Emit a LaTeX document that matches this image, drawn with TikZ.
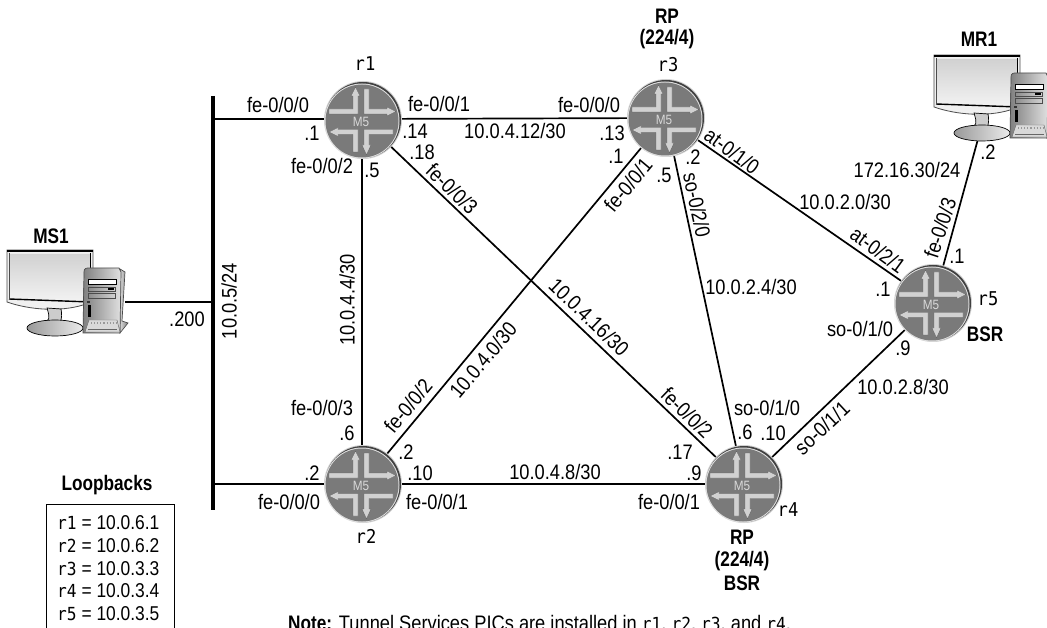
\documentclass[tikz,border=0pt]{standalone}
\usepackage{fontspec}
\setmainfont[FakeStretch=0.87,BoldFeatures={FakeStretch=0.82}]{Liberation Sans}
\newfontfamily\rmono[FakeStretch=0.9]{DejaVu Sans Mono}
\begin{document}
\begin{tikzpicture}[x=1pt,y=-1pt,
  lbl/.style={inner sep=0pt,font=\fontsize{21}{23}\selectfont},
  blbl/.style={inner sep=0pt,font=\fontsize{21}{23}\selectfont\bfseries},
  rn/.style={inner sep=0pt,font=\fontsize{19}{22}\selectfont\rmono},
  link/.style={line width=1.7pt,black},
  router/.style={circle,minimum size=76pt,inner sep=0pt,outer sep=0pt},
  arrowp/.style={fill=black!18,draw=black!60,line width=.4pt},
  pics/routericon/.style={code={
    \fill[black!18] (0,0) circle (39);
    \fill[black!75] (0,0) circle (38);
    \fill[black!12] (-1,1) circle (37.5);
    \fill[black!52] (-1,1) circle (36.5);
    \path[arrowp] (-34,-11)--(-10,-11)--(-10,-24)--(-12,-24)--(-7.5,-33)--(-3,-24)--(-5,-24)--(-5,-6)--(-34,-6)--cycle;
    \path[arrowp] (1,-31)--(6,-31)--(6,-11)--(24,-11)--(24,-13)--(33,-8.5)--(24,-4)--(24,-6)--(1,-6)--cycle;
    \path[arrowp] (-34,12)--(-25,7.5)--(-25,9.5)--(-5,9.5)--(-5,32)--(-10,32)--(-10,14.5)--(-25,14.5)--(-25,16.5)--cycle;
    \path[arrowp] (30,9.5)--(30,14.5)--(6,14.5)--(6,25)--(8,25)--(3.5,35)--(-1,25)--(1,25)--(1,9.5)--cycle;
    \node[inner sep=0pt,text=black!15,font=\fontsize{13.5}{13.5}\selectfont] at (-2,2) {M5};
  }},
  pics/computer/.style={code={
    % monitor
    \fill[black!6,draw=black!70,line width=.8pt] (7,250)--(93,250)--(93,305)--(83,305) .. controls (60,312) and (30,310) .. (7,302)--cycle;
    \fill[black] (7,250) rectangle (93,252.5);
    \shade[top color=black!18,bottom color=black!5] (10,254)--(90,254)--(90,301)--(10,298)--cycle;
    \draw[line width=1.4pt] (9,299)--(91,302);
    \draw[line width=1pt] (90.5,253)--(90.5,302);
    \draw[line width=.8pt,black!70] (9.5,253)--(9.5,299);
    % stand
    \fill[black!20,draw=black,line width=.7pt] (47,308) .. controls (50,318) and (50,320) .. (44,323)--(60,323) .. controls (62,318) and (62,314) .. (61,309)--cycle;
    \shade[left color=black!40,right color=black!8,draw=black,line width=.7pt] (55,328) ellipse (28 and 8);
    % tower
    \shade[left color=black!15,right color=black!50,draw=black!70,line width=.7pt] (120,269)--(125,272)--(122,321)--(128,323)--(120,333)--cycle;
    \shade[left color=black!50,right color=black!12,draw=black!70,line width=.7pt] (84,272) .. controls (84,268) and (86,268) .. (90,268)--(119,268)--(121,272)--(120,333)--(83,333)--cycle;
    \fill[white,draw=black,line width=.8pt] (88,279) rectangle (116,284);
    \draw[line width=.6pt,black!70] (88,287) rectangle (115,291);
    \draw[line width=.6pt,black!70] (88,293) rectangle (115,298);
    \fill[black] (108,288) rectangle (114,290);
    \fill[black] (88,305) rectangle (90.5,317);
    \fill[black!80] (87,301) rectangle (90,303.5);
    \fill[black!15,draw=black!60,line width=.4pt] (85,332)--(89,320)--(117,320)--(120,332)--cycle;
    \draw[line width=1.1pt,black!40,dotted] (91,323)--(116,323);
    \draw[line width=.5pt,black!60] (88,329)--(117,329);
  }}
]
\useasboundingbox (0,0) rectangle (1047,628);
\clip (0,0) rectangle (1047,628);
\fill[white] (0,0) rectangle (1047,628);

% routers
\node[router] (r1) at (362,119) {};
\node[router] (r2) at (362,484) {};
\node[router] (r3) at (666,118) {};
\node[router] (r4) at (744,484) {};
\node[router] (r5) at (933,303) {};

% bus and hosts
\coordinate (bt) at (213,96);
\coordinate (bb) at (213,510);
\coordinate (b1) at (213,119);
\coordinate (b2) at (213,484);
\coordinate (bm) at (213,302);
\coordinate (ms) at (125,302);
\coordinate (mr) at (978,139);
\draw[line width=3.6pt] (bt)--(bb);
\draw[link] (b1)--(r1);
\draw[link] (b2)--(r2);
\draw[line width=1.3pt] (ms)--(bm);
\draw[link] (mr)--(r5);

% links
\draw[link] (r1)--(r3);
\draw[link] (r2)--(r4);
\draw[link] (r1)--(r2);
\draw[link] (r1)--(r4);
\draw[link] (r2)--(r3);
\draw[link] (r3)--(r4);
\draw[link] (r3)--(r5);
\draw[link] (r4)--(r5);

\pic at (363,120) {routericon};
\pic at (363,484) {routericon};
\pic at (666,118) {routericon};
\pic at (744,484) {routericon};
\pic at (933,303) {routericon};

\pic at (0,0) {computer};
\pic at (927,-195) {computer};

% host labels
\node[blbl] (lms) at (51,236) {MS1};
\node[blbl] (lmr) at (979,39) {MR1};
\node[lbl] (l200) at (187,319) {.200};
\node[lbl,rotate=90] (lbus) at (229,301) {10.0.5/24};

% router names and titles
\node[blbl] (t3a) at (667,16) {RP};
\node[blbl] (t3b) at (667,39) {(224/4)};
\node[rn] (n3) at (668,65) {r3};
\node[rn] (n1) at (365,64) {r1};
\node[rn] (n2) at (366,536) {r2};
\node[rn] (n4) at (788,510) {r4};
\node[rn] (n5) at (988,299) {r5};
\node[blbl] (t4a) at (742,537) {RP};
\node[blbl] (t4b) at (742,561) {(224/4)};
\node[blbl] (t4c) at (742,583) {BSR};
\node[blbl] (t5) at (985,334) {BSR};

% r1 labels
\node[lbl] (a1) at (278,105) {fe-0/0/0};
\node[lbl] (a2) at (312,133) {.1};
\node[lbl] (a3) at (439,104) {fe-0/0/1};
\node[lbl] (a4) at (415,131) {.14};
\node[lbl] (a5) at (422,152) {.18};
\node[lbl] (a6) at (322,166) {fe-0/0/2};
\node[lbl] (a7) at (372,170) {.5};
\node[lbl] (a8) at (515,131) {10.0.4.12/30};
\node[lbl,rotate=-44] (a9) at (452,189) {fe-0/0/3};

% r3 labels
\node[lbl] (c1) at (589,105) {fe-0/0/0};
\node[lbl] (c2) at (612,133) {.13};
\node[lbl] (c3) at (616,156) {.1};
\node[lbl] (c4) at (664,175) {.5};
\node[lbl] (c5) at (693,157) {.2};
\node[lbl,rotate=50] (c6) at (628,185) {fe-0/0/1};
\node[lbl,rotate=-78] (c7) at (697,205) {so-0/2/0};
\node[lbl,rotate=-36] (c8) at (732,151) {at-0/1/0};
\node[lbl] (c9) at (845,202) {10.0.2.0/30};
\node[lbl,rotate=-36] (c10) at (878,250) {at-0/2/1};
\node[lbl] (c11) at (751,287) {10.0.2.4/30};

% MR1 / r5 labels
\node[lbl] (e1) at (907,170) {172.16.30/24};
\node[lbl] (e2) at (988,152) {.2};
\node[lbl,rotate=72] (e3) at (940,228) {fe-0/0/3};
\node[lbl] (e4) at (957,256) {.1};
\node[lbl] (e5) at (883,289) {.1};
\node[lbl] (e6) at (860,329) {so-0/1/0};
\node[lbl] (e7) at (903,348) {.9};
\node[lbl] (e8) at (903,387) {10.0.2.8/30};
\node[lbl,rotate=43] (e9) at (822,428) {so-0/1/1};

% r4 labels
\node[lbl] (f1) at (767,408) {so-0/1/0};
\node[lbl] (f2) at (745,432) {.6};
\node[lbl] (f3) at (773,433) {.10};
\node[lbl] (f4) at (680,452) {.17};
\node[lbl] (f5) at (694,473) {.9};
\node[lbl] (f6) at (669,502) {fe-0/0/1};
\node[lbl,rotate=-44] (f7) at (687,413) {fe-0/0/2};
\node[lbl,rotate=-44] (f8) at (589,317) {10.0.4.16/30};

% r2 labels
\node[lbl] (g1) at (322,408) {fe-0/0/3};
\node[lbl] (g2) at (347,433) {.6};
\node[lbl] (g3) at (406,452) {.2};
\node[lbl] (g4) at (312,473) {.2};
\node[lbl] (g5) at (289,502) {fe-0/0/0};
\node[lbl] (g6) at (420,473) {.10};
\node[lbl] (g7) at (437,502) {fe-0/0/1};
\node[lbl,rotate=90] (g8) at (347,300) {10.0.4.4/30};
\node[lbl,rotate=50] (g9) at (483,360) {10.0.4.0/30};
\node[lbl,rotate=50] (g10) at (408,406) {fe-0/0/2};
\node[lbl] (g11) at (555,472) {10.0.4.8/30};

% loopbacks
\node[blbl] (lb) at (107,485) {Loopbacks};
\draw[line width=.9pt] (46,640)--(46,504)--(174,504)--(174,640);
\node[lbl,anchor=north west,align=left,font=\fontsize{20}{22.7}\selectfont] (lbt) at (57,515.5)
 {{\rmono\fontsize{18}{22.7}\selectfont r1} = 10.0.6.1\\
  {\rmono\fontsize{18}{22.7}\selectfont r2} = 10.0.6.2\\
  {\rmono\fontsize{18}{22.7}\selectfont r3} = 10.0.3.3\\
  {\rmono\fontsize{18}{22.7}\selectfont r4} = 10.0.3.4\\
  {\rmono\fontsize{18}{22.7}\selectfont r5} = 10.0.3.5};

% note
\node[lbl,anchor=base west] (note) at (288,630) {\textbf{Note:} Tunnel Services PICs are installed in {\rmono\fontsize{18}{22}\selectfont r1}, {\rmono\fontsize{18}{22}\selectfont r2}, {\rmono\fontsize{18}{22}\selectfont r3}, and {\rmono\fontsize{18}{22}\selectfont r4}.};
\end{tikzpicture}
\end{document}
